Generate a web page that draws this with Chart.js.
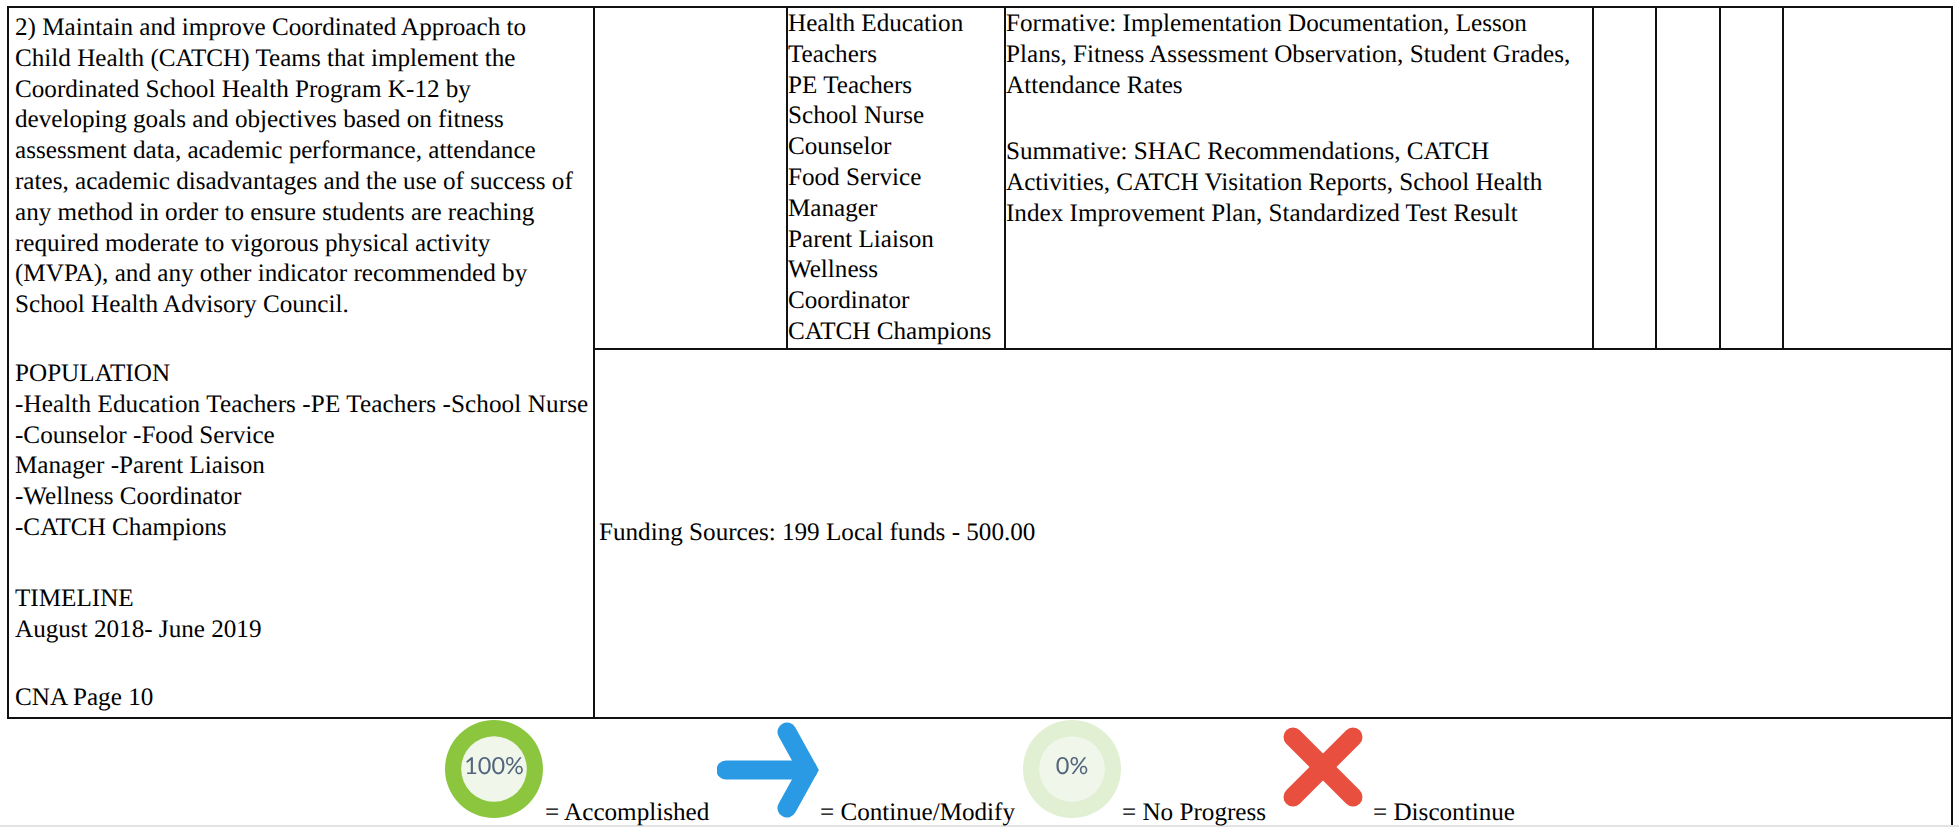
<!DOCTYPE html>
<html><head><meta charset="utf-8">
<script src="https://cdn.jsdelivr.net/npm/chart.js@4"></script>
<style>
html,body{margin:0;padding:0;background:#fff;width:1959px;height:827px;overflow:hidden}
#page{position:relative;width:1959px;height:827px;font-family:"Liberation Serif",serif;font-size:25.15px;color:#000;text-rendering:geometricPrecision}
.t{position:absolute;white-space:nowrap;line-height:30.8px}
.r{position:absolute;background:#111}
.c{position:absolute}
.disc{position:absolute;border-radius:50%}
.pct{position:absolute;font-family:Lato,sans-serif;font-size:23.5px;color:#54657e;text-align:center;line-height:28px}
canvas{display:block}
</style></head><body><div id="page"></div>
<script>
const objectiveLines=["2) Maintain and improve Coordinated Approach to","Child Health (CATCH) Teams that implement the","Coordinated School Health Program K-12 by","developing goals and objectives based on fitness","assessment data, academic performance, attendance","rates, academic disadvantages and the use of success of","any method in order to ensure students are reaching","required moderate to vigorous physical activity","(MVPA), and any other indicator recommended by","School Health Advisory Council."];
const populationLines=["POPULATION","-Health Education Teachers -PE Teachers -School Nurse","-Counselor -Food Service","Manager -Parent Liaison","-Wellness Coordinator","-CATCH Champions"];
const timelineLines=["TIMELINE","August 2018- June 2019"];
const cnaLines=["CNA Page 10"];
const staffLines=["Health Education","Teachers","PE Teachers","School Nurse","Counselor","Food Service","Manager","Parent Liaison","Wellness","Coordinator","CATCH Champions"];
const formativeLines=["Formative: Implementation Documentation, Lesson","Plans, Fitness Assessment Observation, Student Grades,","Attendance Rates"];
const summativeLines=["Summative: SHAC Recommendations, CATCH","Activities, CATCH Visitation Reports, School Health","Index Improvement Plan, Standardized Test Result"];
const fundingLines=["Funding Sources: 199 Local funds - 500.00"];
const legendLabels=["= Accomplished","= Continue/Modify","= No Progress","= Discontinue"];
const accomplishedValues=[100,0];
const noProgressValues=[0,100];
const accomplishedLabel="100%";
const noProgressLabel="0%";
const arrowShaftX=[9,91];
const arrowShaftY=[50,50];
const arrowHeadX=[70,91,70];
const arrowHeadY=[12,50,88];
const crossAX=[10,70];
const crossAY=[10,70];
const crossBX=[10,70];
const crossBY=[70,10];

const page=document.getElementById('page');
function rule(x,y,w,h,col){const d=document.createElement('div');d.className='r';d.style.cssText=`left:${x}px;top:${y}px;width:${w}px;height:${h}px`+(col?`;background:${col}`:'');page.appendChild(d);}
function text(x,y,lines){const d=document.createElement('div');d.className='t';d.style.left=x+'px';d.style.top=y+'px';d.innerHTML=lines.join('<br>');page.appendChild(d);return d;}
// table rules
rule(7,6,1945,2); rule(7,6,2,712); rule(1951,6,2,821);
rule(593,6,2,712); rule(786,6,2,343); rule(1004,6,2,343);
[1592,1655,1719,1782].forEach(x=>rule(x,6,2,343));
rule(594,348,1358,2); rule(7,717,1945,2);
rule(0,825,1959,2,'#e4e4e4');
// text
text(15,13,objectiveLines);
text(15,359,populationLines.map((l,i)=>i===1?`<span style="letter-spacing:.1px">${l}</span>`:l));
text(15,584,timelineLines);
text(15,683,cnaLines);
text(788,9,staffLines);
text(1006,9,formativeLines);
text(1006,137,summativeLines);
text(599,518,fundingLines);
text(545,798,[legendLabels[0]]);
text(820,798,[legendLabels[1]]);
text(1122,798,[legendLabels[2]]);
text(1373,798,[legendLabels[3]]);

function box(x,y,w,h){const d=document.createElement('div');d.className='c';d.style.cssText=`left:${x}px;top:${y}px;width:${w}px;height:${h}px`;const c=document.createElement('canvas');d.appendChild(c);page.appendChild(d);return c;}
function ring(cx,cy,values,fg,bg,label){
  const inner=document.createElement('div');inner.className='disc';
  inner.style.cssText=`left:${cx-34}px;top:${cy-34}px;width:68px;height:68px;background:#f0f7ea`;page.appendChild(inner);
  new Chart(box(cx-50,cy-50,100,100),{type:'doughnut',data:{labels:['Done','Left'],datasets:[{data:values,backgroundColor:[fg,bg],borderWidth:0}]},
    options:{responsive:true,maintainAspectRatio:false,animation:false,cutout:'67%',layout:{padding:1},plugins:{legend:{display:false},tooltip:{enabled:false}}}});
  const p=document.createElement('div');p.className='pct';p.textContent=label;p.style.cssText=`left:${cx-40}px;top:${cy-17}px;width:80px`;page.appendChild(p);
}
function pts(xs,ys){return xs.map((x,i)=>({x,y:ys[i]}));}
function strokes(x,y,w,h,sets,col,lw,join){
  new Chart(box(x,y,w,h),{type:'scatter',data:{datasets:sets.map(d=>({data:d,showLine:true,borderColor:col,borderWidth:lw,borderCapStyle:'round',borderJoinStyle:join,pointRadius:0,tension:0,fill:false}))},
  options:{responsive:true,maintainAspectRatio:false,animation:false,layout:{padding:0},
   scales:{x:{display:false,min:0,max:w},y:{display:false,min:0,max:h,reverse:true}},plugins:{legend:{display:false},tooltip:{enabled:false}}}});
}
ring(494,769,accomplishedValues,'#8cc63f','#e1efd3',accomplishedLabel);
ring(1072,769,noProgressValues,'#8cc63f','#e1efd3',noProgressLabel);
strokes(717,720,104,100,[pts(arrowShaftX,arrowShaftY),pts(arrowHeadX,arrowHeadY)],'#2a9ae5',19,'miter');
strokes(1283,727,80,80,[pts(crossAX,crossAY),pts(crossBX,crossBY)],'#e94f3e',19,'round');
</script></body></html>
